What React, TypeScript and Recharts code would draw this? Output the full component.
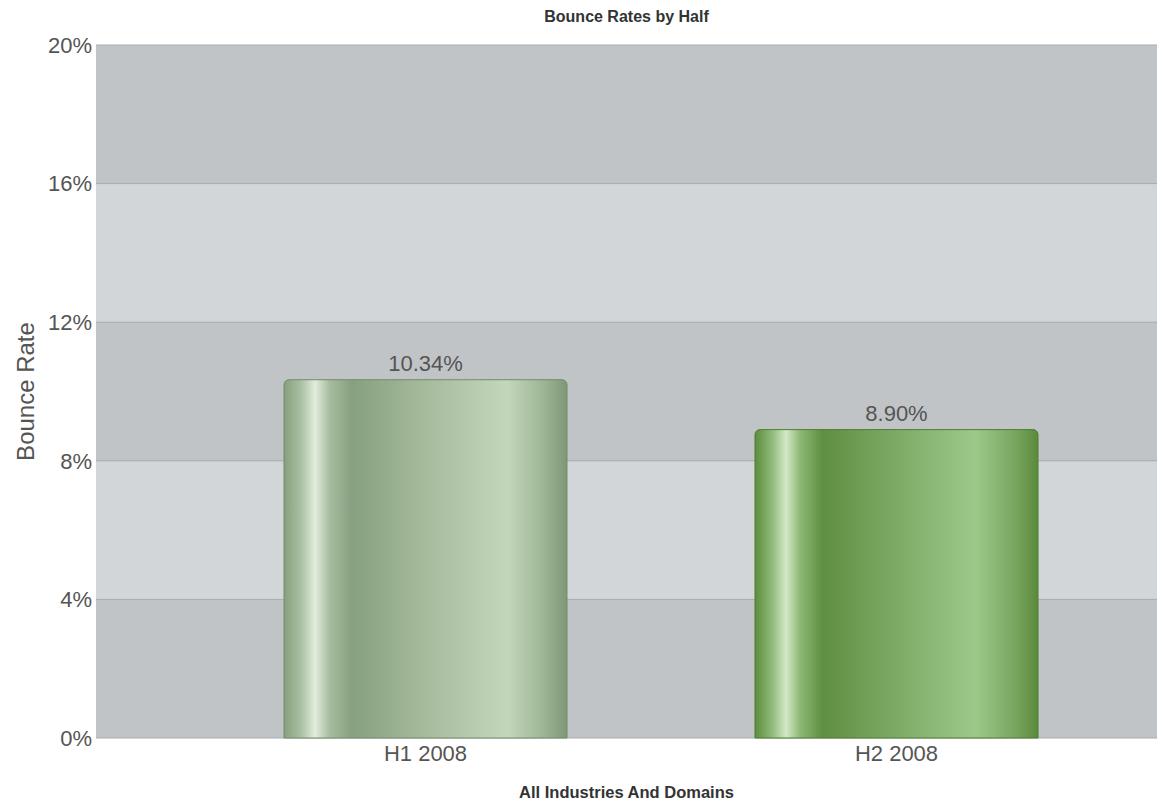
import { BarChart, Bar, XAxis, YAxis, CartesianGrid, Cell, LabelList, Label } from 'recharts';

const categories = ['H1 2008', 'H2 2008'];
const bounceRates = [10.34, 8.9];
const yTicks = [0, 4, 8, 12, 16, 20];

const data = categories.map((name, i) => ({ name, rate: bounceRates[i] }));

const FONT = '"Liberation Sans", Arial, sans-serif';

export default function App() {
  return (
    <div style={{ position: 'absolute', left: 0, top: 0, width: 1157, height: 803, background: '#fff', fontFamily: FONT }}>
      <div
        style={{
          position: 'absolute',
          left: 96,
          right: 0,
          top: 8,
          textAlign: 'center',
          fontWeight: 'bold',
          fontSize: 16,
          color: '#333',
        }}
      >
        Bounce Rates by Half
      </div>
      <BarChart
        width={1157}
        height={803}
        data={data}
        margin={{ top: 45, right: 0, bottom: 0, left: 0 }}
        barCategoryGap={94}
      >
        <defs>
          <linearGradient id="barH1" x1="0" y1="0" x2="1" y2="0">
            <stop offset="0%" stopColor="#86a07e" />
            <stop offset="6%" stopColor="#a9c0a2" />
            <stop offset="11%" stopColor="#e2ecdd" />
            <stop offset="16%" stopColor="#a8bda0" />
            <stop offset="24%" stopColor="#87a07f" />
            <stop offset="50%" stopColor="#a6bb9c" />
            <stop offset="79%" stopColor="#c3d7bb" />
            <stop offset="92%" stopColor="#9db494" />
            <stop offset="100%" stopColor="#7e9776" />
          </linearGradient>
          <linearGradient id="barH2" x1="0" y1="0" x2="1" y2="0">
            <stop offset="0%" stopColor="#5d8d3e" />
            <stop offset="6%" stopColor="#8fba78" />
            <stop offset="11%" stopColor="#d3e8c8" />
            <stop offset="16%" stopColor="#8cb874" />
            <stop offset="24%" stopColor="#5f8f40" />
            <stop offset="50%" stopColor="#7eaa66" />
            <stop offset="78%" stopColor="#9cc98a" />
            <stop offset="92%" stopColor="#78a660" />
            <stop offset="100%" stopColor="#5a8a3b" />
          </linearGradient>
        </defs>
        <CartesianGrid
          vertical={false}
          stroke="#a9acaf"
          fill="#c1c4c7"
          horizontalFill={['#c1c4c7', '#d3d6d9']}
        />
        <XAxis
          dataKey="name"
          axisLine={false}
          tickLine={false}
          height={65}
          padding={{ left: 94, right: 25 }}
          tick={{ fill: '#555', fontSize: 22, fontFamily: FONT }}
          tickMargin={1}
        >
          <Label
            value="All Industries And Domains"
            position="insideBottom"
            offset={5}
            style={{ fill: '#333', fontSize: 16.5, fontWeight: 'bold', fontFamily: FONT }}
          />
        </XAxis>
        <YAxis
          width={96}
          domain={[0, 20]}
          ticks={yTicks}
          interval={0}
          axisLine={false}
          tickLine={false}
          tickSize={0}
          tickMargin={4}
          tickFormatter={(v: number) => `${v}%`}
          tick={{ fill: '#555', fontSize: 22, fontFamily: FONT }}
        >
          <Label
            value="Bounce Rate"
            angle={-90}
            position="insideLeft"
            offset={25}
            style={{ fill: '#555', fontSize: 24, fontFamily: FONT, textAnchor: 'middle' }}
          />
        </YAxis>
        <Bar dataKey="rate" isAnimationActive={false} radius={[5, 5, 0, 0]} stroke="#6f8a67" strokeWidth={1}>
          {data.map((d, i) => (
            <Cell key={d.name} fill={i === 0 ? 'url(#barH1)' : 'url(#barH2)'} stroke={i === 0 ? '#738c6b' : '#4f7d33'} />
          ))}
          <LabelList
            dataKey="rate"
            position="top"
            offset={9}
            formatter={(v: any) => `${Number(v).toFixed(2)}%`}
            style={{ fill: '#555', fontSize: 22, fontFamily: FONT }}
          />
        </Bar>
      </BarChart>
    </div>
  );
}
